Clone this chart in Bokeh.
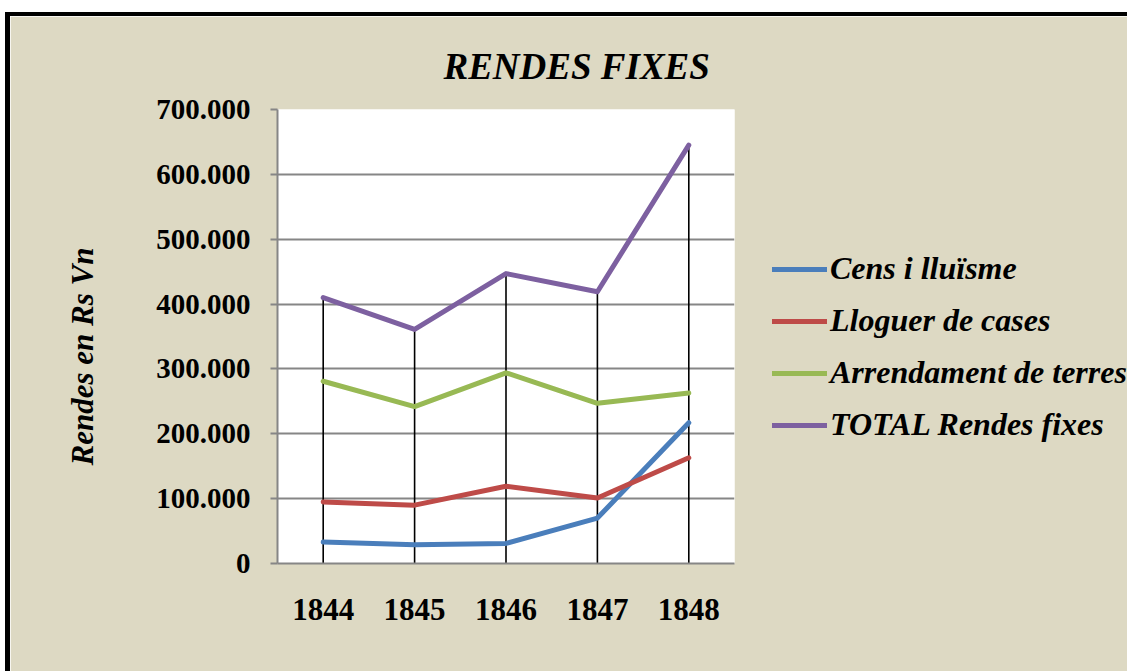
from bokeh.plotting import figure
from bokeh.models import Legend, LegendItem, FixedTicker, Title
from bokeh.embed import file_html
from bokeh.resources import INLINE

years = [1844, 1845, 1846, 1847, 1848]
cens = [33000, 29000, 31000, 70000, 217000]
lloguer = [95000, 90000, 119000, 101000, 163000]
arrendament = [281000, 242000, 294000, 247000, 263000]
total = [410000, 361000, 447000, 419000, 645000]

series_names = ["Cens i lluïsme", "Lloguer de cases", "Arrendament de terres", "TOTAL Rendes fixes"]
series_vals = [cens, lloguer, arrendament, total]
colors = ["#4A7EBB", "#BE4B48", "#98B954", "#7D60A0"]
y_ticks = [0, 100000, 200000, 300000, 400000, 500000, 600000, 700000]

BG = "#DDD9C3"
GRID = "#868686"
FONT = "Liberation Serif"

p = figure(frame_width=457, frame_height=454, output_backend="svg", toolbar_location=None,
           x_range=(1843.5, 1848.5), y_range=(0, 700000),
           min_border_left=267, min_border_top=93, min_border_bottom=108, min_border_right=0,
           background_fill_color="white", border_fill_color=BG, outline_line_color=None)
p.styles = {"border-top": "4px solid black", "border-left": "5px solid black",
            "margin-top": "12px", "margin-left": "5px"}

p.title.text = "RENDES FIXES"
p.title.text_font = FONT
p.title.text_font_size = "37px"
p.title.text_font_style = "bold italic"
p.title.align = "left"
p.title.vertical_align = "top"
p.title.offset = 166
p.title.standoff = 42
p.title.text_color = "black"

# drop lines
p.segment(x0=years, y0=[0] * len(years), x1=years, y1=total, line_color="black", line_width=1.6)

items = []
for name, vals, c in zip(series_names, series_vals, colors):
    r = p.line(years, vals, line_color=c, line_width=5, line_cap="round", line_join="round")
    items.append(LegendItem(label=name, renderers=[r]))

# axes
p.xaxis.ticker = FixedTicker(ticks=years)
p.xaxis.major_label_overrides = {y: str(y) for y in years}
p.xaxis.major_tick_line_color = None
p.xaxis.minor_tick_line_color = None
p.xaxis.axis_line_color = GRID
p.xaxis.axis_line_width = 2
p.xaxis.major_label_text_font = FONT
p.xaxis.major_label_text_font_size = "31px"
p.xaxis.major_label_text_font_style = "bold"
p.xaxis.major_label_text_color = "black"
p.xaxis.major_label_standoff = 29

p.yaxis.ticker = FixedTicker(ticks=y_ticks)
p.yaxis.major_label_overrides = {t: ("0" if t == 0 else f"{t // 1000}.000") for t in y_ticks}
p.yaxis.major_tick_in = 0
p.yaxis.major_tick_out = 7
p.yaxis.major_tick_line_color = GRID
p.yaxis.major_tick_line_width = 2
p.yaxis.minor_tick_line_color = None
p.yaxis.axis_line_color = GRID
p.yaxis.axis_line_width = 2
p.yaxis.major_label_text_font = FONT
p.yaxis.major_label_text_font_size = "29px"
p.yaxis.major_label_text_font_style = "bold"
p.yaxis.major_label_text_color = "black"
p.yaxis.major_label_standoff = 20

ylabel = Title(text="Rendes en Rs Vn", align="left", vertical_align="middle",
               offset=98, standoff=106,
               text_font=FONT, text_font_size="31px", text_font_style="bold italic",
               text_color="black")
p.add_layout(ylabel, "left")

p.xgrid.grid_line_color = None
p.ygrid.grid_line_color = GRID
p.ygrid.grid_line_width = 2

legend = Legend(items=items, location=(38, 120),
                background_fill_alpha=0, border_line_color=None,
                glyph_width=55, glyph_height=30, label_standoff=3, spacing=15,
                label_width=335,
                label_text_font=FONT, label_text_font_size="32px",
                label_text_font_style="bold italic", label_text_color="black",
                margin=0, padding=0)
p.add_layout(legend, "right")

open("out.html", "w").write(file_html(p, INLINE))
